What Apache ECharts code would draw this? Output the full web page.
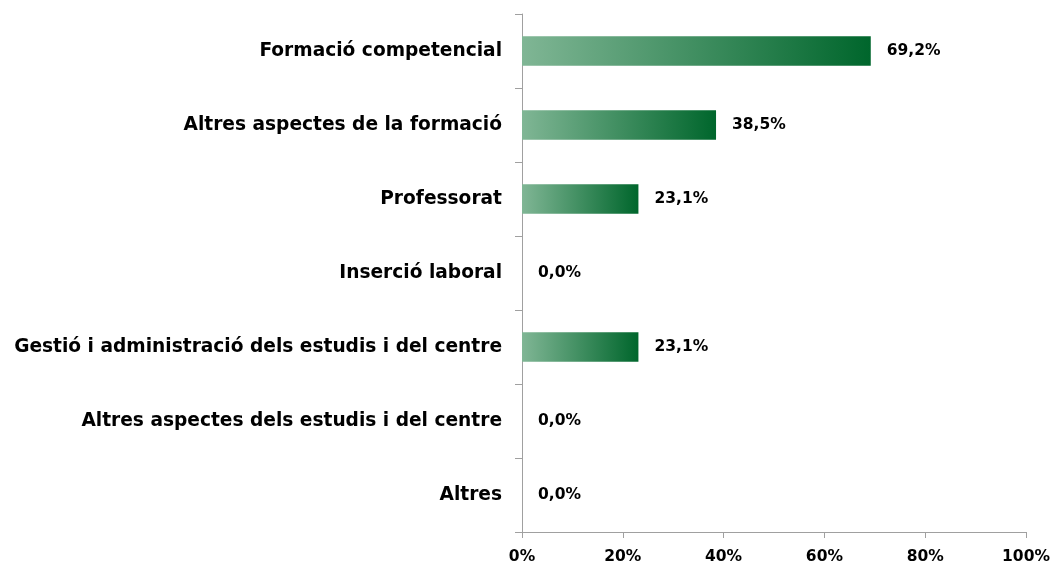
<!DOCTYPE html>
<html>
<head>
<meta charset="utf-8">
<script src="https://cdn.jsdelivr.net/npm/echarts@6/dist/echarts.min.js"></script>
<style>
  html, body { margin: 0; padding: 0; background: #fff; }
  #chart { width: 1053px; height: 567px; }
</style>
</head>
<body>
<div id="chart"></div>
<script>
// Categories, top to bottom
const categories = [
  'Formació competencial',
  'Altres aspectes de la formació',
  'Professorat',
  'Inserció laboral',
  'Gestió i administració dels estudis i del centre',
  'Altres aspectes dels estudis i del centre',
  'Altres'
];
// Percentages per category
const values = [69.2, 38.5, 23.1, 0.0, 23.1, 0.0, 0.0];
// Value axis ticks
const axisMin = 0;
const axisMax = 100;
const axisStep = 20;

const font = 'DejaVu Sans, Verdana, sans-serif';
const axisGray = '#a0a0a0';

const chart = echarts.init(document.getElementById('chart'), null, { renderer: 'canvas' });
chart.setOption({
  animation: false,
  backgroundColor: '#ffffff',
  grid: { left: 522, right: 27, top: 14, bottom: 35, containLabel: false },
  xAxis: {
    type: 'value',
    min: axisMin, max: axisMax, interval: axisStep,
    axisLine: { show: true, lineStyle: { color: axisGray, width: 1 } },
    axisTick: { show: true, length: 6, lineStyle: { color: axisGray } },
    splitLine: { show: false },
    axisLabel: {
      formatter: v => v + '%',
      color: '#000', fontFamily: font, fontWeight: 'bold', fontSize: 15.5, margin: 17
    }
  },
  yAxis: {
    type: 'category',
    data: categories,
    inverse: true,
    axisLine: { show: true, lineStyle: { color: axisGray, width: 1 } },
    axisTick: { show: true, length: 7, lineStyle: { color: axisGray } },
    axisLabel: {
      color: '#000', fontFamily: font, fontWeight: 'bold', fontSize: 18.6, margin: 20
    }
  },
  series: [{
    type: 'bar',
    data: values,
    barCategoryGap: '60%',
    itemStyle: {
      color: new echarts.graphic.LinearGradient(0, 0, 1, 0, [
        { offset: 0, color: '#80b695' },
        { offset: 1, color: '#00662c' }
      ])
    },
    label: {
      show: true,
      position: 'right',
      distance: 16,
      formatter: p => p.value.toFixed(1).replace('.', ',') + '%',
      color: '#000', fontFamily: font, fontWeight: 'bold', fontSize: 15.5
    }
  }]
});
</script>
</body>
</html>
